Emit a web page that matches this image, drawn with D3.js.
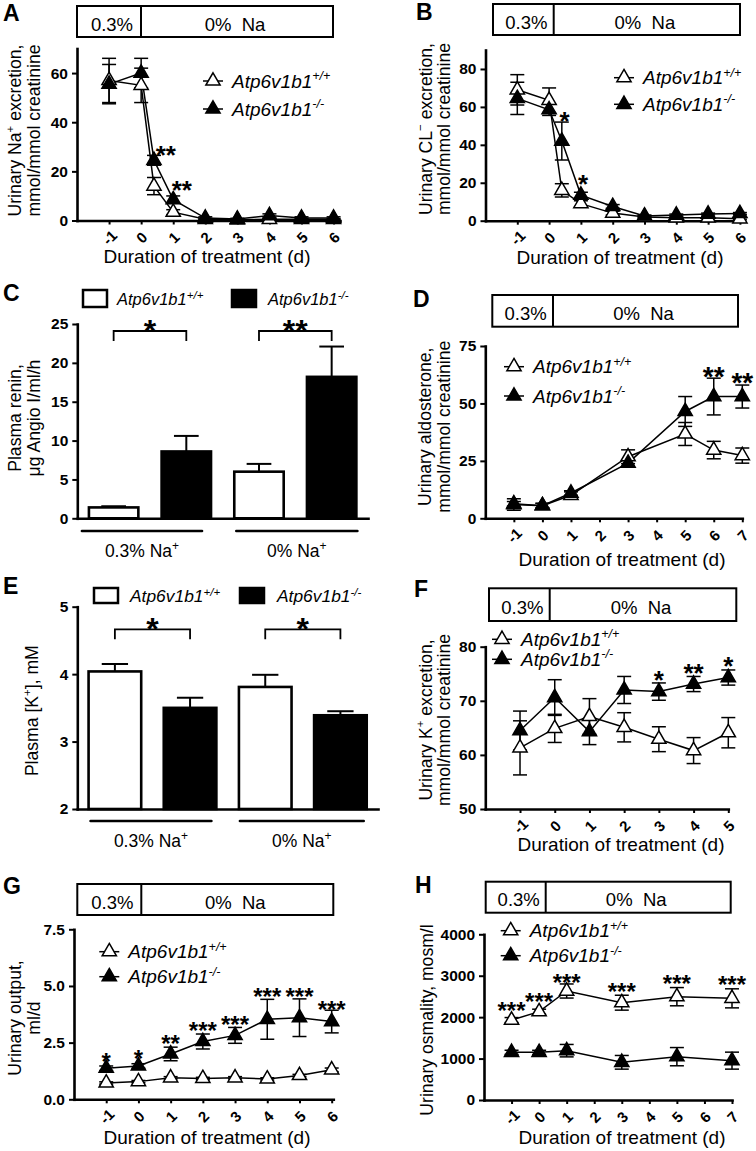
<!DOCTYPE html>
<html><head><meta charset="utf-8">
<script src="https://cdn.jsdelivr.net/npm/d3@7"></script>
<style>
body{margin:0;background:#fff}
svg{display:block}
text{font-family:"Liberation Sans",Arial,Helvetica,sans-serif;fill:#000}
</style>
</head><body>
<svg id="c" width="756" height="1151"></svg>
<script>
// ================= DATA =================
const genotypes = ["Atp6v1b1", "Atp6v1b1"];
const genoSup = ["+/+", "-/-"];
const dietLabels = ["0.3%", "0%  Na"];
const barGroups = ["0.3% Na", "0% Na"];

// A: urinary Na+ excretion
const xA = [-1, 0, 0.4, 1, 2, 3, 4, 5, 6];
const wtA = [57, 55, 14, 3.4, 0.5, 0.3, 0.5, 0.5, 0.5];
const wtAerr = [9, 7, 3.5, 1, 0.3, 0.2, 0.3, 0.3, 0.3];
const koA = [55.5, 60, 24.5, 8.5, 1, 0.6, 2, 1, 1];
const koAerr = [8, 6, 2, 1.5, 0.5, 0.3, 0.7, 0.5, 0.5];
const starAx = [0.77, 1.27], starAy = [28.9, 14.6], starAl = ["**", "**"];
const tickYA = [0, 20, 40, 60], tickXA = [-1, 0, 1, 2, 3, 4, 5, 6];

// B: urinary Cl- excretion
const xB = [-1, 0, 0.4, 1, 2, 3, 4, 5, 6];
const wtB = [69, 63.5, 16, 9, 4, 2, 1.5, 1.5, 1];
const wtBerr = [8, 6.5, 3.5, 1.5, 1, 0.5, 0.5, 0.5, 0.5];
const koB = [64.5, 58.5, 42, 13.5, 7.5, 2.5, 3, 3.5, 3.8];
const koBerr = [8.5, 3, 10, 1.5, 1, 0.5, 0.5, 0.5, 0.5];
const starBx = [0.49, 1.07], starBy = [55.7, 22.4], starBl = ["*", "*"];
const tickYB = [0, 20, 40, 60, 80], tickXB = [-1, 0, 1, 2, 3, 4, 5, 6];

// C: plasma renin
const wtC = [1.4, 6.0], wtCerr = [0.15, 1.0];
const koC = [8.6, 18.2], koCerr = [2.0, 3.9];
const sigC = ["*", "**"];
const tickYC = [0, 5, 10, 15, 20, 25];

// D: urinary aldosterone
const xD = [-1, 0, 1, 3, 5, 6, 7];
const wtD = [6, 5.5, 10, 26.8, 36.7, 29.7, 27.3];
const wtDerr = [2.5, 1, 1.5, 3, 5, 3.8, 3.3];
const koD = [6.3, 5.5, 11, 24, 46.5, 53, 53];
const koDerr = [1, 1, 1, 1.5, 6.5, 8, 5];
const starDx = [6, 7], starDy = [64.6, 61.7], starDl = ["**", "**"];
const tickYD = [0, 25, 50, 75], tickXD = [-1, 0, 1, 2, 3, 4, 5, 6, 7];

// E: plasma K+
const wtE = [4.04, 3.81], wtEerr = [0.11, 0.18];
const koE = [3.50, 3.39], koEerr = [0.15, 0.06];
const sigE = ["*", "*"];
const tickYE = [2, 3, 4, 5];

// F: urinary K+ excretion
const xF = [-1, 0, 1, 2, 3, 4, 5];
const wtF = [61.3, 64.9, 67.1, 65.1, 62.9, 60.8, 64.1];
const wtFerr = [5, 2.6, 3.3, 2.7, 2.3, 2.4, 2.8];
const koF = [64.5, 70.6, 64.3, 72, 71.7, 73.1, 74.3];
const koFerr = [3.6, 3.3, 2.4, 2.5, 1.6, 1.4, 1.4];
const starFx = [3, 4, 5], starFy = [74.8, 76.1, 77.5], starFl = ["*", "**", "*"];
const tickYF = [50, 60, 70, 80], tickXF = [-1, 0, 1, 2, 3, 4, 5];

// G: urinary output
const xG = [-1, 0, 1, 2, 3, 4, 5, 6];
const wtG = [0.72, 0.78, 0.95, 0.92, 0.95, 0.9, 1.05, 1.3];
const wtGerr = [0.05, 0.05, 0.05, 0.05, 0.05, 0.05, 0.05, 0.08];
const koG = [1.37, 1.47, 2.0, 2.55, 2.82, 3.53, 3.6, 3.43];
const koGerr = [0.1, 0.1, 0.3, 0.33, 0.35, 0.88, 0.83, 0.5];
const starGx = [-1, 0, 1, 2, 3, 4, 5, 6];
const starGy = [1.88, 2.03, 2.69, 3.25, 3.53, 4.75, 4.75, 4.2];
const starGl = ["*", "*", "**", "***", "***", "***", "***", "***"];
const tickYG = [0, 2.5, 5, 7.5], tickXG = [-1, 0, 1, 2, 3, 4, 5, 6];

// H: urinary osmolality
const xH = [-1, 0, 1, 3, 5, 7];
const wtH = [1930, 2132, 2631, 2349, 2494, 2454];
const wtHerr = [60, 60, 170, 180, 220, 230];
const koH = [1151, 1150, 1191, 910, 1046, 950];
const koHerr = [50, 50, 150, 165, 220, 205];
const starHx = [-1, 0, 1, 3, 5, 7];
const starHy = [2269, 2494, 2961, 2735, 2920, 2896];
const starHl = ["***", "***", "***", "***", "***", "***"];
const tickYH = [0, 1000, 2000, 3000, 4000], tickXH = [-1, 0, 1, 2, 3, 4, 5, 6, 7];

// ================= DRAWING =================
const FONT = '"Liberation Sans", Arial, Helvetica, sans-serif';
const svg = d3.select("#c");

function addText(g, x, y, parts, o) {
  const t = g.append("text").attr("x", x).attr("y", y)
    .attr("font-size", o.fs).attr("text-anchor", o.anchor || "start");
  if (o.italic) t.attr("font-style", "italic");
  if (o.bold) t.attr("font-weight", "bold");
  if (o.rotate) t.attr("transform", `rotate(-90 ${x} ${y})`);
  const supFs = o.supFs || o.fs * 0.65, sh = o.shift || o.fs * 0.4;
  let prevSup = false;
  parts.forEach(p => {
    const arr = Array.isArray(p) ? p : [p, false];
    const ts = t.append("tspan").text(arr[0]);
    if (arr[1]) { ts.attr("font-size", supFs); if (!prevSup) ts.attr("dy", -sh); }
    else if (prevSup) ts.attr("dy", sh);
    prevSup = arr[1];
  });
  return t;
}

function styleAxis(a, fs) {
  a.attr("font-family", FONT);
  a.select(".domain").attr("stroke-width", 2.6).attr("stroke-linecap", "square");
  a.selectAll(".tick line").attr("stroke-width", 2);
  a.selectAll(".tick text").attr("font-weight", "bold").attr("font-size", fs || 15.5).attr("fill", "#000");
}

function yTitle(g, c) {
  c.ytitle.forEach((line, i) => addText(g, c.ytx[i], c.ytcy, line, {fs: 17.6, anchor: "middle", rotate: true}));
}

const tri = d3.symbol(d3.symbolTriangle, 88);

function legendLine(g, c) {
  c.legY.forEach((ly, i) => {
    g.append("line").attr("x1", c.legTx - 29).attr("x2", c.legTx - 9).attr("y1", ly).attr("y2", ly)
      .attr("stroke", "#000").attr("stroke-width", 1.5);
    g.append("path").attr("d", tri()).attr("transform", `translate(${c.legTx - 19},${ly})`)
      .attr("fill", i === 0 ? "#fff" : "#000").attr("stroke", "#000").attr("stroke-width", 1.5);
    addText(g, c.legTx, ly + 6.5, [genotypes[i], [genoSup[i], true]], {fs: 19, italic: true, supFs: 12.5, shift: 7.5});
  });
}

function linePanel(c, series, stars) {
  const g = svg.append("g");
  const x = d3.scaleLinear().domain(c.xd).range([c.x0, c.x1]);
  const y = d3.scaleLinear().domain(c.yd).range([c.y0, c.y1]);
  addText(g, c.lx, c.ly, [c.letter], {fs: 23, bold: true});

  // diet box
  const [bx0, by0, bx1, by1, bd] = c.box;
  g.append("rect").attr("x", bx0).attr("y", by0).attr("width", bx1 - bx0).attr("height", by1 - by0)
    .attr("fill", "none").attr("stroke", "#000").attr("stroke-width", 2);
  g.append("line").attr("x1", bd).attr("x2", bd).attr("y1", by0).attr("y2", by1)
    .attr("stroke", "#000").attr("stroke-width", 2);
  const bcy = (by0 + by1) / 2 + 2.5;
  g.append("text").attr("x", (bx0 + bd) / 2 + 3).attr("y", bcy).attr("dominant-baseline", "central")
    .attr("text-anchor", "middle").attr("font-size", 18.5).style("white-space", "pre").text(dietLabels[0]);
  g.append("text").attr("x", (bd + bx1) / 2 - 2).attr("y", bcy).attr("dominant-baseline", "central")
    .attr("text-anchor", "middle").attr("font-size", 18.5).style("white-space", "pre").text(dietLabels[1]);

  // axes
  const ya = g.append("g").attr("transform", `translate(${c.x0},0)`)
    .call(d3.axisLeft(y).tickValues(c.yTicks).tickFormat(c.yFmt || (d => String(d))).tickSize(5).tickPadding(4).tickSizeOuter(0));
  styleAxis(ya);
  const xa = g.append("g").attr("transform", `translate(0,${c.y0})`)
    .call(d3.axisBottom(x).tickValues(c.xTicks).tickFormat(d => String(d)).tickSize(4).tickSizeOuter(0));
  styleAxis(xa, 15);
  xa.selectAll(".tick text").attr("y", 0).attr("dy", null)
    .attr("transform", "translate(0,17) rotate(-45)")
    .attr("dominant-baseline", "central").attr("text-anchor", "middle");

  // error bars + lines
  const line = d3.line().x(d => x(d[0])).y(d => y(d[1]));
  series.forEach(s => {
    s.x.forEach((xv, i) => {
      const e = s.e[i]; if (!e) return;
      const px = x(xv), ylo = y(s.y[i] - e), yhi = y(s.y[i] + e);
      g.append("line").attr("x1", px).attr("x2", px).attr("y1", ylo).attr("y2", yhi).attr("stroke", "#000").attr("stroke-width", 1.5);
      [ylo, yhi].forEach(yy => g.append("line").attr("x1", px - 7).attr("x2", px + 7).attr("y1", yy).attr("y2", yy)
        .attr("stroke", "#000").attr("stroke-width", 1.5));
    });
    g.append("path").attr("d", line(s.x.map((xv, i) => [xv, s.y[i]])))
      .attr("fill", "none").attr("stroke", "#000").attr("stroke-width", 1.5);
  });
  series.forEach(s => {
    g.selectAll(null).data(s.x.map((xv, i) => [xv, s.y[i]])).enter().append("path")
      .attr("d", tri()).attr("transform", d => `translate(${x(d[0])},${y(d[1])})`)
      .attr("fill", s.filled ? "#000" : "#fff").attr("stroke", "#000").attr("stroke-width", 1.5);
  });

  // significance stars
  stars.x.forEach((sx, i) => {
    g.append("text").attr("x", x(sx)).attr("y", y(stars.y[i]) + 0.56 * c.starFs)
      .attr("text-anchor", "middle").attr("font-weight", "bold").attr("font-size", c.starFs).text(stars.l[i]);
  });

  legendLine(g, c);
  yTitle(g, c);
  addText(g, c.xtx, c.xty, ["Duration of treatment (d)"], {fs: 19, anchor: "middle"});
}

function barPanel(c, d) {
  const g = svg.append("g");
  const keys = [];
  barGroups.forEach((gname, gi) => [0, 1].forEach(k => keys.push(gi + "-" + k)));
  const x = d3.scaleBand().domain(keys).range([c.x0, c.x1]).paddingInner(c.pad).paddingOuter(c.pad / 2);
  const y = d3.scaleLinear().domain(c.yd).range([c.y0, c.y1]);
  const bw = x.bandwidth();
  addText(g, c.lx, c.ly, [c.letter], {fs: 23, bold: true});

  // legend
  [0, 1].forEach(i => {
    g.append("rect").attr("x", c.legRx[i]).attr("y", c.legRy).attr("width", c.legW).attr("height", c.legH)
      .attr("fill", i === 0 ? "#fff" : "#000").attr("stroke", "#000").attr("stroke-width", 2.5);
    addText(g, c.legTx[i], c.legTy, [genotypes[i], [genoSup[i], true]], {fs: c.legFs, italic: true, supFs: 11.5, shift: 6.5});
  });

  const bars = [];
  barGroups.forEach((gname, gi) => {
    bars.push({k: gi + "-0", v: d.wt[gi], e: d.wtErr[gi], fill: "#fff"});
    bars.push({k: gi + "-1", v: d.ko[gi], e: d.koErr[gi], fill: "#000"});
  });
  bars.forEach(b => {
    const cx = x(b.k) + bw / 2;
    g.append("line").attr("x1", cx).attr("x2", cx).attr("y1", y(b.v)).attr("y2", y(b.v + b.e)).attr("stroke", "#000").attr("stroke-width", 2);
    g.append("line").attr("x1", cx - bw * 0.25).attr("x2", cx + bw * 0.25).attr("y1", y(b.v + b.e)).attr("y2", y(b.v + b.e))
      .attr("stroke", "#000").attr("stroke-width", 2);
  });
  g.selectAll(null).data(bars).enter().append("rect")
    .attr("x", b => x(b.k)).attr("width", bw).attr("y", b => y(b.v)).attr("height", b => c.y0 - y(b.v))
    .attr("fill", b => b.fill).attr("stroke", "#000").attr("stroke-width", 2.6);

  const ya = g.append("g").attr("transform", `translate(${c.x0},0)`)
    .call(d3.axisLeft(y).tickValues(c.yTicks).tickFormat(d => String(d)).tickSize(5).tickPadding(4).tickSizeOuter(0));
  styleAxis(ya);
  const xa = g.append("g").attr("transform", `translate(0,${c.y0})`)
    .call(d3.axisBottom(x).tickValues([]).tickSizeOuter(0));
  styleAxis(xa);

  // brackets, group lines, labels
  barGroups.forEach((gname, gi) => {
    const xa0 = x(gi + "-0") + bw / 2, xb0 = x(gi + "-1") + bw / 2;
    g.append("path").attr("d", `M${xa0},${c.brY + 10}V${c.brY}H${xb0}V${c.brY + 10}`)
      .attr("fill", "none").attr("stroke", "#000").attr("stroke-width", 1.8);
    g.append("text").attr("x", (xa0 + xb0) / 2).attr("y", c.brY - 7 + 0.56 * c.starFs)
      .attr("text-anchor", "middle").attr("font-weight", "bold").attr("font-size", c.starFs).text(d.sig[gi]);
    const l0 = x(gi + "-0") + c.glOff[gi][0], l1 = x(gi + "-1") + bw + c.glOff[gi][1];
    g.append("line").attr("x1", l0).attr("x2", l1).attr("y1", c.glY).attr("y2", c.glY)
      .attr("stroke", "#000").attr("stroke-width", 2.6).attr("stroke-linecap", "round");
    addText(g, (l0 + l1) / 2, c.glTy, [gname, ["+", true]], {fs: 17.5, anchor: "middle", supFs: 12, shift: 7});
  });
  yTitle(g, c);
}

// ---------- panels ----------
linePanel({letter: "A", lx: 3, ly: 21, x0: 77, x1: 340, xd: [-2, 6.2], y0: 220.5, y1: 48.5, yd: [0, 70],
  yTicks: tickYA, xTicks: tickXA, box: [77, 6, 333, 37, 141],
  ytitle: [["Urinary Na", ["+", true], " excretion,"], ["mmol/mmol creatinine"]], ytx: [21, 40], ytcy: 130.5,
  xtx: 207, xty: 263, legY: [81, 109], legTx: 232, starFs: 26},
  [{x: xA, y: wtA, e: wtAerr, filled: false}, {x: xA, y: koA, e: koAerr, filled: true}],
  {x: starAx, y: starAy, l: starAl});

linePanel({letter: "B", lx: 416, ly: 20, x0: 485.5, x1: 741.5, xd: [-2, 6.05], y0: 220.7, y1: 50, yd: [0, 90],
  yTicks: tickYB, xTicks: tickXB, box: [493, 4, 740, 35, 553.7],
  ytitle: [["Urinary CL", ["\u2212", true], " excretion,"], ["mmol/mmol creatinine"]], ytx: [431.5, 450], ytcy: 129,
  xtx: 620, xty: 264, legY: [77.7, 104.3], legTx: 643, starFs: 26},
  [{x: xB, y: wtB, e: wtBerr, filled: false}, {x: xB, y: koB, e: koBerr, filled: true}],
  {x: starBx, y: starBy, l: starBl});

barPanel({letter: "C", lx: 3, ly: 301, x0: 77.3, x1: 368, y0: 518.3, y1: 324, yd: [0, 25], yTicks: tickYC, pad: 0.32,
  legRx: [83, 232], legRy: 290, legW: 24, legH: 17, legTx: [117, 268], legTy: 305, legFs: 16.5,
  brY: 331, starFs: 32, glY: 531, glTy: 557, glOff: [[-7, -9], [2, 1]],
  ytitle: [["Plasma renin,"], ["\u03bcg Angio I/ml/h"]], ytx: [21, 40], ytcy: 418},
  {wt: wtC, wtErr: wtCerr, ko: koC, koErr: koCerr, sig: sigC});

linePanel({letter: "D", lx: 413, ly: 307, x0: 485.3, x1: 742.3, xd: [-2, 7], y0: 518.3, y1: 346, yd: [0, 75],
  yTicks: tickYD, xTicks: tickXD, box: [492.3, 295, 738, 326.7, 553],
  ytitle: [["Urinary aldosterone,"], ["mmol/mmol creatinine"]], ytx: [431.5, 450], ytcy: 426.7,
  xtx: 622, xty: 566, legY: [366.7, 396], legTx: 533, starFs: 28},
  [{x: xD, y: wtD, e: wtDerr, filled: false}, {x: xD, y: koD, e: koDerr, filled: true}],
  {x: starDx, y: starDy, l: starDl});

barPanel({letter: "E", lx: 3, ly: 594, x0: 77.3, x1: 378, y0: 809, y1: 606.7, yd: [2, 5], yTicks: tickYE, pad: 0.3,
  legRx: [94, 240], legRy: 588, legW: 24, legH: 15, legTx: [130, 277], legTy: 602, legFs: 17.4,
  brY: 629.3, starFs: 32, glY: 821, glTy: 847, glOff: [[2, -5], [1, -3]],
  ytitle: [["Plasma [K", ["+", true], "], mM"]], ytx: [38], ytcy: 710.7},
  {wt: wtE, wtErr: wtEerr, ko: koE, koErr: koEerr, sig: sigE});

linePanel({letter: "F", lx: 414, ly: 597, x0: 485.3, x1: 728.3, xd: [-2, 5], y0: 809, y1: 646.7, yd: [50, 80],
  yTicks: tickYF, xTicks: tickXF, box: [489, 588.3, 736.3, 621, 549.7],
  ytitle: [["Urinary K", ["+", true], " excretion,"], ["mmol/mmol creatinine"]], ytx: [431.5, 450], ytcy: 720,
  xtx: 621, xty: 851, legY: [639.3, 659.3], legTx: 521, starFs: 26},
  [{x: xF, y: wtF, e: wtFerr, filled: false}, {x: xF, y: koF, e: koFerr, filled: true}],
  {x: starFx, y: starFy, l: starFl});

linePanel({letter: "G", lx: 3, ly: 894, x0: 74, x1: 333.3, xd: [-2, 6.05], y0: 1099.3, y1: 929.3, yd: [0, 7.5],
  yTicks: tickYG, yFmt: d3.format(".1f"), xTicks: tickXG, box: [77.3, 884, 333.3, 915, 141.3],
  ytitle: [["Urinary output,"], ["ml/d"]], ytx: [21, 40], ytcy: 1018,
  xtx: 207, xty: 1144, legY: [951.7, 976.7], legTx: 128.3, starFs: 24},
  [{x: xG, y: wtG, e: wtGerr, filled: false}, {x: xG, y: koG, e: koGerr, filled: true}],
  {x: starGx, y: starGy, l: starGl});

linePanel({letter: "H", lx: 415, ly: 893, x0: 484, x1: 732, xd: [-2, 7], y0: 1100, y1: 934.3, yd: [0, 4000],
  yTicks: tickYH, xTicks: tickXH, box: [485.7, 881.7, 730.7, 912.7, 545.7],
  ytitle: [["Urinary osmality, mosm/l"]], ytx: [433], ytcy: 1020,
  xtx: 622, xty: 1144, legY: [930.7, 955.7], legTx: 529.7, starFs: 24},
  [{x: xH, y: wtH, e: wtHerr, filled: false}, {x: xH, y: koH, e: koHerr, filled: true}],
  {x: starHx, y: starHy, l: starHl});
</script>
</body></html>
